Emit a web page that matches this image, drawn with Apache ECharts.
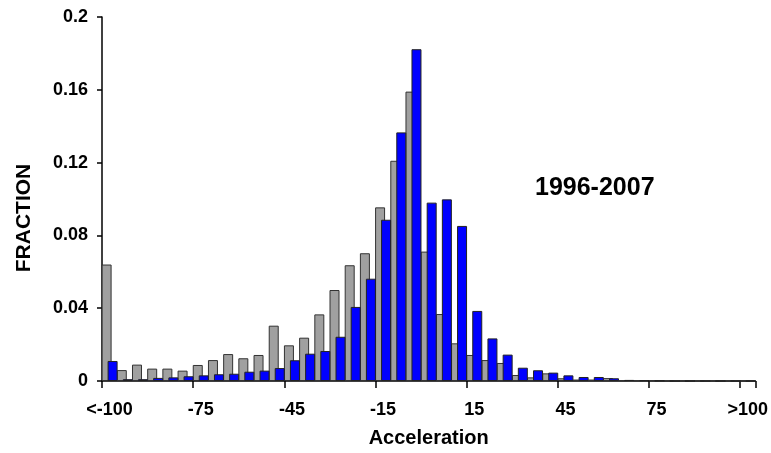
<!DOCTYPE html>
<html>
<head>
<meta charset="utf-8">
<script src="https://cdn.jsdelivr.net/npm/echarts@6/dist/echarts.min.js"></script>
<style>
  html, body { margin: 0; padding: 0; background: #fff; }
  #chart { width: 771px; height: 453px; }
</style>
</head>
<body>
<div id="chart"></div>
<script>
// bins: <-100, -100 ... 100 (step 5), >100
var categories = ['<-100'];
for (var b = -100; b <= 100; b += 5) categories.push(String(b));
categories.push('>100');

// grey bars (earlier period)
var greyValues = [
  0.064, 0.006, 0.009, 0.0068, 0.0068, 0.0057, 0.0088, 0.0115, 0.0148, 0.0125,
  0.0143, 0.0304, 0.0196, 0.0238, 0.0366, 0.050, 0.0636, 0.0702, 0.0954, 0.121,
  0.159, 0.0711, 0.0368, 0.0207, 0.0143, 0.0115, 0.0099, 0.0033, 0.002, 0.0042,
  0.0015, 0.0008, 0.0008, 0.0016, 0.0005, 0.0004, 0.0003, 0, 0, 0,
  0, 0, 0
];
// blue bars (1996-2007)
var blueValues = [
  0.011, 0.001, 0.001, 0.0017, 0.002, 0.0026, 0.0031, 0.0037, 0.004, 0.0051,
  0.0057, 0.0071, 0.0114, 0.015, 0.0165, 0.0243, 0.0407, 0.0562, 0.0886, 0.1366,
  0.1823, 0.098, 0.0998, 0.0852, 0.0385, 0.0234, 0.0145, 0.0073, 0.0059, 0.0046,
  0.0031, 0.0022, 0.0022, 0.0015, 0.0006, 0.0004, 0.0002, 0, 0, 0,
  0, 0, 0
];

var font = 'Liberation Sans, Arial, sans-serif';
var chart = echarts.init(document.getElementById('chart'));

var option = {
  animation: false,
  title: {
    text: '1996-2007',
    left: 530,
    top: 171,
    textStyle: { fontFamily: font, fontSize: 25, fontWeight: 'bold', color: '#000' }
  },
  graphic: [{
    type: 'text',
    x: 24,
    y: 218,
    rotation: Math.PI / 2,
    style: {
      text: 'FRACTION',
      font: 'bold 21px ' + font,
      fill: '#000',
      align: 'center',
      verticalAlign: 'middle'
    }
  }],
  grid: { left: 102, right: 14, top: 17, bottom: 72 },
  xAxis: {
    type: 'category',
    data: categories,
    boundaryGap: true,
    name: 'Acceleration',
    nameLocation: 'middle',
    nameGap: 47,
    nameTextStyle: { fontFamily: font, fontSize: 20, fontWeight: 'bold', color: '#000' },
    axisLine: { lineStyle: { color: '#000', width: 1.5 } },
    axisTick: { show: true, interval: 5, length: 7, lineStyle: { color: '#000', width: 1.5 } },
    axisLabel: { interval: 5, margin: 20, fontFamily: font, fontSize: 18, fontWeight: 'bold', color: '#000' },
    splitLine: { show: false }
  },
  yAxis: {
    type: 'value',
    min: 0,
    max: 0.2,
    interval: 0.04,
    axisLine: { show: true, lineStyle: { color: '#000', width: 1.5 } },
    axisTick: { show: true, length: 5, lineStyle: { color: '#000', width: 1.5 } },
    axisLabel: { margin: 14, fontFamily: font, fontSize: 18, fontWeight: 'bold', color: '#000' },
    splitLine: { show: false }
  },
  series: [
    {
      type: 'bar',
      data: greyValues,
      barWidth: 10,
      barGap: '-40%',
      itemStyle: { color: '#a0a0a0', borderColor: '#333', borderWidth: 1 }
    },
    {
      type: 'bar',
      data: blueValues,
      barWidth: 10,
      itemStyle: { color: '#0000ff', borderColor: '#222', borderWidth: 1 }
    }
  ]
};

chart.setOption(option);
</script>
</body>
</html>
